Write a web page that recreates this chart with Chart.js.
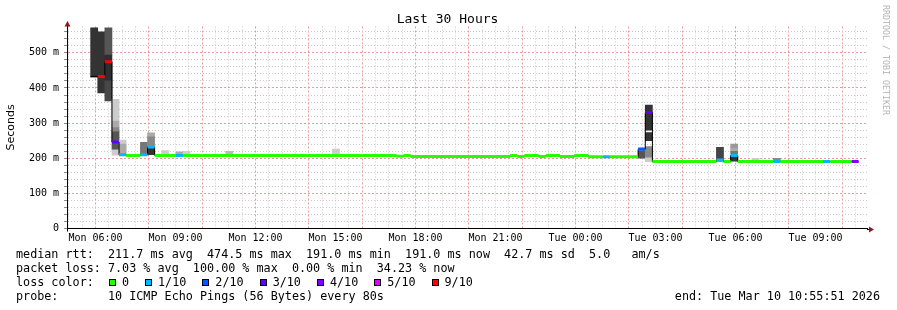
<!DOCTYPE html>
<html>
<head>
<meta charset="utf-8">
<script src="https://cdn.jsdelivr.net/npm/chart.js@4.4.1/dist/chart.umd.min.js"></script>
<style>
body { margin: 0; background: #fff; }
#box { position: relative; width: 897px; height: 310px; overflow: hidden; }
#graphic { position: absolute; left: 0; top: 0; }
.txt { position: absolute; font-family: 'DejaVu Sans Mono', monospace; font-size: 11.75px; line-height: 14px; white-space: pre; color: #000; }
#lossRow { display: flex; align-items: center; }
.sq { width: 7px; height: 7px; border: 1px solid #000; box-sizing: border-box; margin-left: 1px; margin-right: 6px; }
.lbl { margin-right: 15px; }
#mark { position: absolute; left: 891px; top: 5px; transform-origin: 0 0; transform: rotate(90deg); font: 8.3px/10px 'DejaVu Sans Mono', monospace; color: #b4b4b4; white-space: pre; }
</style>
</head>
<body>
<div id="box">
<canvas id="graphic" width="897" height="310"></canvas>
<div class="txt" style="left:16px;top:247px">median rtt:  211.7 ms avg  474.5 ms max  191.0 ms min  191.0 ms now  42.7 ms sd  5.0   am/s</div>
<div class="txt" style="left:16px;top:261px">packet loss: 7.03 % avg  100.00 % max  0.00 % min  34.23 % now</div>
<div class="txt" id="lossRow" style="left:16px;top:275px"><span>loss color:  </span></div>
<div class="txt" style="left:16px;top:289px">probe:       10 ICMP Echo Pings (56 Bytes) every 80s</div>
<div class="txt" style="right:17px;top:289px">end: Tue Mar 10 10:55:51 2026</div>
<div id="mark">RRDTOOL / TOBI OETIKER</div>
</div>
<script>
const graphStart = 'Mon 04:55:51';
const graphEnd = 'Tue 10:55:51';
const binMinutes = 16;

const xTickLabels = ['Mon 06:00', 'Mon 09:00', 'Mon 12:00', 'Mon 15:00', 'Mon 18:00',
  'Mon 21:00', 'Tue 00:00', 'Tue 03:00', 'Tue 06:00', 'Tue 09:00'];
const yTickLabels = ['0', '100 m', '200 m', '300 m', '400 m', '500 m'];
const yMax = 575;

const lossLabels = ['0', '1/10', '2/10', '3/10', '4/10', '5/10', '9/10'];
const lossSteps = [0, 1, 2, 3, 4, 5, 9];
const lossColors = ['#26ff00', '#00b8ff', '#0059ff', '#5e00ff', '#7e00ff', '#dd00ff', '#ff0000'];

// median rtt (ms), each value holds until the next start
const medianTime = ['Mon 05:49', 'Mon 06:05', 'Mon 06:21', 'Mon 06:37', 'Mon 06:53', 'Mon 07:09', 'Mon 07:41', 'Mon 07:57', 'Mon 08:13', 'Mon 09:01', 'Mon 09:17',
  'Mon 17:17', 'Mon 17:33', 'Mon 17:49', 'Mon 21:33', 'Mon 21:49', 'Mon 22:05', 'Mon 22:37', 'Mon 22:53', 'Mon 23:25', 'Mon 23:57',
  'Tue 00:29', 'Tue 01:01', 'Tue 01:17', 'Tue 02:21', 'Tue 02:37', 'Tue 02:53', 'Tue 05:17', 'Tue 05:33', 'Tue 05:49', 'Tue 06:05',
  'Tue 07:25', 'Tue 07:41', 'Tue 09:17', 'Tue 09:33', 'Tue 10:21'];
const medianRtt = [433, 433, 475, 246, 210, 208, 210, 232, 208, 208, 208,
  206, 208, 205, 207.5, 205, 207.5, 205, 207.5, 205, 207.5,
  204, 204, 204, 226, 330, 190.5, 195, 190.5, 208, 190.5,
  190.5, 190.5, 190.5, 190.5, 190.5];
const medianLoss = [10, 9, 9, 3, 1, 0, 1, 1, 0, 1, 0,
  0, 0, 0, 0, 0, 0, 0, 0, 0, 0,
  0, 1, 0, 2, 3, 0, 1, 0, 1, 0,
  1, 0, 1, 0, 4];
const medianEnd = 'Tue 10:37';

// smoke bands: bin start, low / high (ms), grey
const smokeTime = ['Mon 05:49', 'Mon 06:05', 'Mon 06:21', 'Mon 06:21', 'Mon 06:21',
  'Mon 06:37', 'Mon 06:37', 'Mon 06:37', 'Mon 06:37', 'Mon 06:37',
  'Mon 06:53', 'Mon 06:53', 'Mon 07:41', 'Mon 07:57', 'Mon 07:57', 'Mon 07:57',
  'Mon 08:29', 'Mon 09:01', 'Mon 09:17', 'Mon 10:53', 'Mon 14:53',
  'Tue 02:21', 'Tue 02:37', 'Tue 02:37', 'Tue 02:37', 'Tue 02:37',
  'Tue 05:17', 'Tue 05:49', 'Tue 05:49', 'Tue 05:49', 'Tue 05:49', 'Tue 06:37', 'Tue 07:25'];
const smokeLow = [431, 386, 494, 420, 363,
  306, 287, 275, 224, 209,
  240, 210, 210, 261, 234, 210,
  210, 210, 210, 210, 210,
  200, 190, 203, 250, 280,
  192, 228, 220, 212, 192, 193, 191];
const smokeHigh = [571, 560, 571, 494, 420,
  368, 306, 287, 275, 224,
  252, 240, 245, 272, 261, 230,
  222, 218, 220, 220, 226,
  222, 203, 233, 273, 351,
  231, 240, 228, 220, 206, 200, 200];
const smokeGrey = ['#333', '#333', '#555', '#2e2e2e', '#474747',
  '#ccc', '#aaa', '#888', '#555', '#ccc',
  '#ccc', '#aaa', '#777', '#aaa', '#888', '#333',
  '#ccc', '#aaa', '#ccc', '#bbb', '#ccc',
  '#555', '#ccc', '#888', '#333', '#333',
  '#444', '#999', '#aaa', '#777', '#333', '#ccc', '#888'];

const days = { Mon: 0, Tue: 24 };
const toHours = s => {
  const [d, t] = s.split(' ');
  const [h, m, sec = 0] = t.split(':').map(Number);
  return days[d] + h + m / 60 + sec / 3600;
};
const isMult = (v, m) => Math.abs(v / m - Math.round(v / m)) < 1e-6;

const minorGrid = '#c8c8c8';
const majorGrid = '#eb9b9b';
const clear = 'rgba(0,0,0,0)';

const binHalf = binMinutes / 120;
const smokeData = smokeTime.map((t, i) => ({ x: toHours(t) + binHalf, y: [smokeLow[i], smokeHigh[i]] }));

const medianData = medianTime.map((t, i) => ({ x: toHours(t), y: medianRtt[i] }));
medianData.push({ x: toHours(medianEnd), y: medianRtt[medianRtt.length - 1] });

const lossSets = lossSteps.map((step, j) => {
  const pts = [];
  medianTime.forEach((t, i) => {
    if (medianLoss[i] !== step) return;
    const x1 = toHours(medianTime[i + 1] || medianEnd);
    pts.push({ x: toHours(t), y: medianRtt[i] }, { x: x1, y: medianRtt[i] }, { x: x1, y: null });
  });
  return {
    type: 'line', label: lossLabels[j], data: pts, borderColor: lossColors[j],
    borderWidth: 3, pointRadius: 0, spanGaps: false, order: 1
  };
});

const arrows = {
  id: 'arrows',
  afterDraw(chart) {
    const { ctx, chartArea: { left, right, top, bottom } } = chart;
    const ax = Math.round(left) + 0.5, ay = Math.round(bottom) + 0.5;
    ctx.save();
    ctx.strokeStyle = '#000';
    ctx.lineWidth = 1;
    ctx.beginPath();
    ctx.moveTo(ax, top); ctx.lineTo(ax, top - 1);
    ctx.moveTo(ax, bottom); ctx.lineTo(ax, bottom + 3);
    ctx.moveTo(right, ay); ctx.lineTo(right + 2, ay);
    ctx.stroke();
    ctx.fillStyle = '#8b1a1a';
    ctx.beginPath();
    ctx.moveTo(ax - 3, top); ctx.lineTo(ax + 3, top); ctx.lineTo(ax, top - 5.5);
    ctx.closePath(); ctx.fill();
    ctx.beginPath();
    ctx.moveTo(right + 2, ay - 3); ctx.lineTo(right + 2, ay + 3); ctx.lineTo(right + 7, ay);
    ctx.closePath(); ctx.fill();
    ctx.restore();
  }
};

Chart.defaults.font.family = "'DejaVu Sans Mono', monospace";
Chart.defaults.color = '#000';

const ctx = document.getElementById('graphic');

let grafico = new Chart(ctx, {
  type: 'line',
  data: {
    datasets: [
      ...lossSets,
      {
        type: 'line', label: 'median', data: medianData, borderColor: '#000',
        borderWidth: 1, stepped: true, pointRadius: 0, order: 2
      },
      {
        type: 'bar', label: 'smoke', data: smokeData, backgroundColor: smokeGrey,
        borderWidth: 0, barPercentage: 1, categoryPercentage: 1, grouped: false, order: 3
      }
    ]
  },
  options: {
    responsive: false,
    animation: false,
    events: [],
    layout: { padding: { left: 28, right: 30, top: 0, bottom: 61.5 } },
    plugins: {
      legend: { display: false },
      tooltip: { enabled: false },
      title: {
        display: true,
        text: 'Last 30 Hours',
        font: { size: 13, weight: 'normal', lineHeight: 1 },
        padding: { top: 13.5, bottom: 0 }
      }
    },
    scales: {
      x: {
        type: 'linear',
        min: toHours(graphStart),
        max: toHours(graphEnd),
        offset: false,
        afterBuildTicks: scale => {
          const t = [];
          for (let v = Math.ceil(scale.min * 2) / 2; v < scale.max; v += 0.5) t.push({ value: v });
          scale.ticks = t;
        },
        afterFit: scale => { scale.height = 20; },
        ticks: {
          autoSkip: false,
          maxRotation: 0,
          minRotation: 0,
          padding: 3.5,
          font: { size: 10 },
          callback: v => xTickLabels.find(l => Math.abs(toHours(l) - v) < 1e-6) || ''
        },
        grid: {
          offset: false,
          drawTicks: false,
          color: c => c.tick ? (isMult(c.tick.value, 2) ? majorGrid : minorGrid) : minorGrid
        },
        border: {
          color: '#000',
          dash: c => (c.tick && isMult(c.tick.value, 2)) ? [2, 2] : [1, 2]
        }
      },
      y: {
        type: 'linear',
        min: 0,
        max: yMax,
        afterBuildTicks: scale => {
          const t = [];
          for (let v = 0; v < scale.max; v += 20) t.push({ value: v });
          scale.ticks = t;
        },
        afterFit: scale => { scale.width = 39; },
        ticks: {
          autoSkip: false,
          padding: 5,
          font: { size: 10 },
          callback: v => isMult(v, 100) ? (yTickLabels[Math.round(v / 100)] || '') : ''
        },
        grid: {
          drawTicks: true,
          tickLength: 3,
          tickColor: '#8c8c8c',
          color: c => {
            if (!c.tick || c.tick.value === 0) return clear;
            return isMult(c.tick.value, 100) ? majorGrid : minorGrid;
          }
        },
        border: {
          color: '#000',
          dash: c => (c.tick && isMult(c.tick.value, 100)) ? [2, 2] : [1, 2]
        },
        title: {
          display: true,
          text: 'Seconds',
          font: { family: "'DejaVu Sans', sans-serif", size: 11 },
          padding: { top: -23.6, bottom: 0 }
        }
      }
    }
  },
  plugins: [arrows]
});

const lossRow = document.getElementById('lossRow');
lossLabels.forEach((l, i) => {
  const sq = document.createElement('span');
  sq.className = 'sq';
  sq.style.background = lossColors[i];
  const lbl = document.createElement('span');
  lbl.className = 'lbl';
  lbl.textContent = l;
  lossRow.append(sq, lbl);
});
</script>
</body>
</html>
